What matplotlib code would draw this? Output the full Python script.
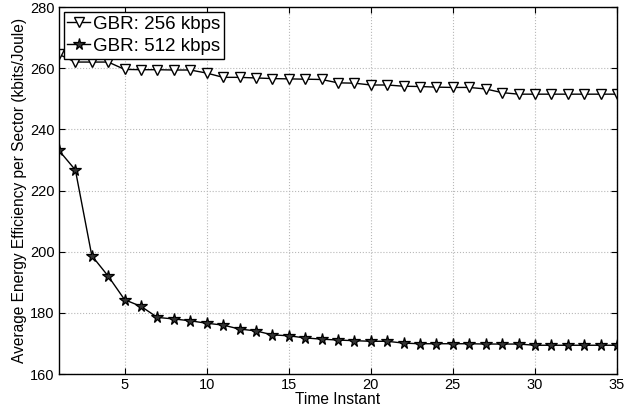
import numpy as np
import matplotlib
matplotlib.use("Agg")
import matplotlib.pyplot as plt

plt.rcParams["font.family"] = ["Liberation Sans", "DejaVu Sans"]

# ---------------------------------------------------------------------------
# Data
# ---------------------------------------------------------------------------
time_instant = list(range(1, 36))

gbr_256 = [264.5, 262.0, 262.0, 262.0, 259.6, 259.5, 259.5, 259.4, 259.4, 258.4,
           257.0, 257.0, 256.8, 256.6, 256.5, 256.4, 256.3, 255.2, 255.1, 254.5,
           254.5, 254.1, 254.0, 253.8, 253.7, 253.7, 253.2, 252.0, 251.5, 251.5,
           251.5, 251.5, 251.5, 251.5, 251.5]

gbr_512 = [233.1, 226.7, 198.7, 192.0, 184.3, 182.1, 178.5, 178.0, 177.4, 176.6,
           176.0, 174.7, 174.1, 172.8, 172.5, 171.8, 171.4, 171.1, 170.9, 170.7,
           170.7, 170.1, 169.9, 169.9, 169.9, 169.9, 169.8, 169.8, 169.8, 169.4,
           169.4, 169.4, 169.4, 169.4, 169.4]

x_ticks = [5, 10, 15, 20, 25, 30, 35]
y_ticks = [160, 180, 200, 220, 240, 260, 280]

# ---------------------------------------------------------------------------
# Plot
# ---------------------------------------------------------------------------
fig = plt.figure(figsize=(6.26, 4.12), dpi=100)
ax = fig.add_axes([0.0942, 0.0922, 0.8914, 0.8908])

ax.plot(time_instant, gbr_256, "k-", marker="v", markersize=7,
        markerfacecolor="white", markeredgecolor="black", markeredgewidth=1.0,
        linewidth=1.0, label="GBR: 256 kbps")
ax.plot(time_instant, gbr_512, "k-", marker="*", markersize=8.5,
        markerfacecolor="0.2", markeredgecolor="black", markeredgewidth=0.9,
        linewidth=1.0, label="GBR: 512 kbps")

ax.set_xlim(1, 35)
ax.set_ylim(160, 280)
ax.set_xticks(x_ticks)
ax.set_yticks(y_ticks)
ax.tick_params(direction="in", top=True, right=True, labelsize=10.5,
               length=4, width=0.8, pad=3)
ax.grid(True, linestyle=":", color="0.72", linewidth=0.8)
for s in ax.spines.values():
    s.set_linewidth(1.0)

ax.set_xlabel("Time Instant", fontsize=11.2, labelpad=0)
ax.set_ylabel("Average Energy Efficiency per Sector (kbits/Joule)", fontsize=11.2,
              labelpad=2)

leg = ax.legend(loc="upper left", fontsize=13.5, frameon=True, fancybox=False,
                borderpad=0.2, handlelength=1.2, handletextpad=0.15,
                labelspacing=0.28, borderaxespad=0.25, framealpha=1)
leg.get_frame().set_edgecolor("black")
leg.get_frame().set_linewidth(1.0)

fig.savefig("out.png", dpi=100)
